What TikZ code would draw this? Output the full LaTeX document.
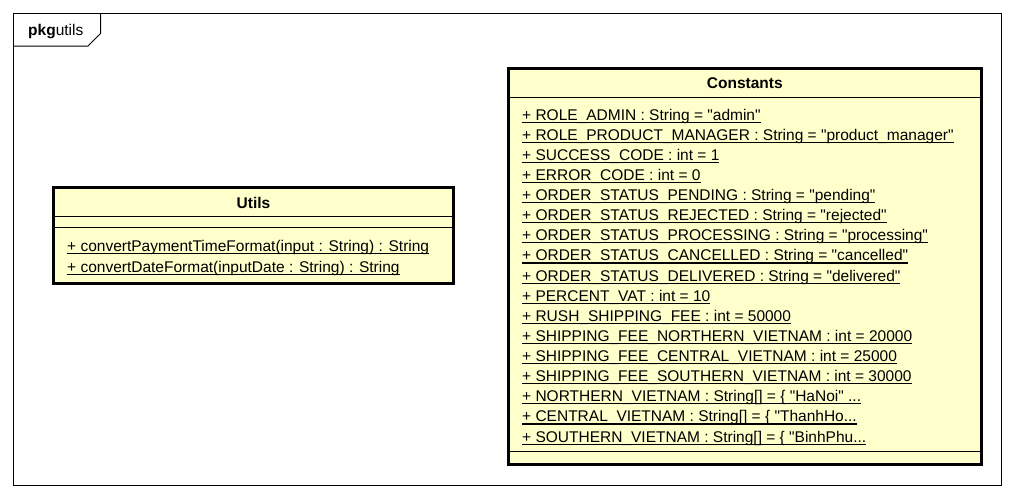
\documentclass[tikz,border=0pt]{standalone}
\usepackage{fontspec}
\setmainfont{Liberation Sans}[Ligatures=TeXOff]
\definecolor{umlfill}{HTML}{FFFFCC}
\newcommand\myul[1]{\setbox0\hbox{#1}\rlap{\rule[-2.6pt]{\wd0}{1.1pt}}\box0}
\tikzset{
  pkgline/.style={draw=black, line width=1pt},
  classbox/.style={draw=black, fill=umlfill, line width=3pt},
  sepline/.style={draw=black, line width=1.1pt},
  member/.style={anchor=base west, inner sep=0pt, font=\fontsize{15.5}{18}\selectfont},
  ctitle/.style={anchor=base, inner sep=0pt, font=\fontsize{15.5}{18}\selectfont\bfseries},
}
\begin{document}
\begin{tikzpicture}[x=1pt,y=-1pt]
\useasboundingbox (0,0) rectangle (1014,498);
\fill[white] (0,0) rectangle (1014,498);
% package frame
\draw[pkgline] (13.5,13.5) rectangle (1001,485);
\draw[pkgline] (13.5,46) -- (88,46) -- (100.5,33.5) -- (100.5,13.5);
\node[anchor=base west, inner sep=0pt, font=\fontsize{15.5}{18}\selectfont] (pkg) at (28,35) {\textbf{pkg}utils};
% Utils class
\draw[classbox] (53.5,187.5) rectangle (453.5,283.5);
\coordinate (u1l) at (53.5,216.5); \coordinate (u1r) at (453.5,216.5);
\coordinate (u2l) at (53.5,227.5); \coordinate (u2r) at (453.5,227.5);
\draw[sepline] (u1l) -- (u1r);
\draw[sepline] (u2l) -- (u2r);
\node[ctitle] (utitle) at (253.5,208.5) {Utils};
\node[member] (um1) at (67,251.5) {\myul{+ convertPaymentTimeFormat(input : String) : String}};
\node[member] (um2) at (67,272) {\myul{+ convertDateFormat(inputDate : String) : String}};
% Constants class
\draw[classbox] (508.5,68.5) rectangle (981,464.5);
\coordinate (c1l) at (508.5,97.5); \coordinate (c1r) at (981,97.5);
\coordinate (c2l) at (508.5,451.5); \coordinate (c2r) at (981,451.5);
\draw[sepline] (c1l) -- (c1r);
\draw[sepline] (c2l) -- (c2r);
\node[ctitle] (ctitle) at (744.75,88) {Constants};
\node[member] (ca0) at (522,120.0) {\myul{+ ROLE\_ADMIN : String = "admin"}};
\node[member] (ca1) at (522,140.1) {\myul{+ ROLE\_PRODUCT\_MANAGER : String = "product\_manager"}};
\node[member] (ca2) at (522,160.2) {\myul{+ SUCCESS\_CODE : int = 1}};
\node[member] (ca3) at (522,180.4) {\myul{+ ERROR\_CODE : int = 0}};
\node[member] (ca4) at (522,200.5) {\myul{+ ORDER\_STATUS\_PENDING : String = "pending"}};
\node[member] (ca5) at (522,220.6) {\myul{+ ORDER\_STATUS\_REJECTED : String = "rejected"}};
\node[member] (ca6) at (522,240.7) {\myul{+ ORDER\_STATUS\_PROCESSING : String = "processing"}};
\node[member] (ca7) at (522,260.9) {\myul{+ ORDER\_STATUS\_CANCELLED : String = "cancelled"}};
\node[member] (ca8) at (522,281.0) {\myul{+ ORDER\_STATUS\_DELIVERED : String = "delivered"}};
\node[member] (ca9) at (522,301.1) {\myul{+ PERCENT\_VAT : int = 10}};
\node[member] (ca10) at (522,321.2) {\myul{+ RUSH\_SHIPPING\_FEE : int = 50000}};
\node[member] (ca11) at (522,341.4) {\myul{+ SHIPPING\_FEE\_NORTHERN\_VIETNAM : int = 20000}};
\node[member] (ca12) at (522,361.5) {\myul{+ SHIPPING\_FEE\_CENTRAL\_VIETNAM : int = 25000}};
\node[member] (ca13) at (522,381.6) {\myul{+ SHIPPING\_FEE\_SOUTHERN\_VIETNAM : int = 30000}};
\node[member] (ca14) at (522,401.7) {\myul{+ NORTHERN\_VIETNAM : String[] = \{ "HaNoi" ...}};
\node[member] (ca15) at (522,421.9) {\myul{+ CENTRAL\_VIETNAM : String[] = \{ "ThanhHo...}};
\node[member] (ca16) at (522,442.0) {\myul{+ SOUTHERN\_VIETNAM : String[] = \{ "BinhPhu...}};
\end{tikzpicture}
\end{document}
